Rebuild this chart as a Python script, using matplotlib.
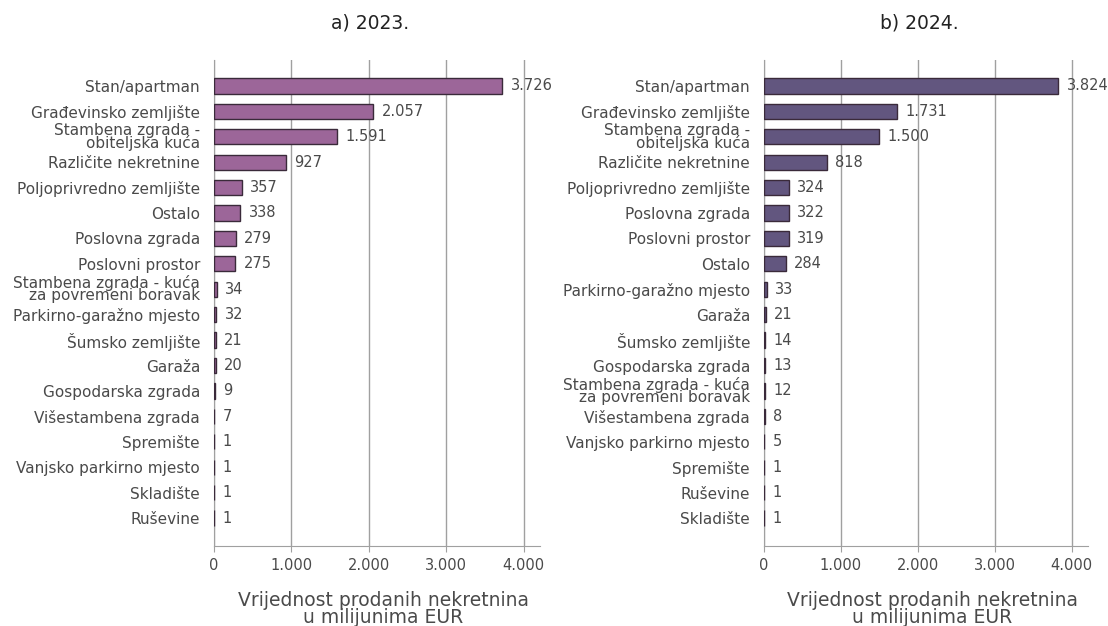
import matplotlib
matplotlib.use("Agg")
import matplotlib.pyplot as plt

plt.rcParams['font.family'] = ['DejaVu Sans']

cats_2023 = ["Stan/apartman", "Građevinsko zemljište", "Stambena zgrada -\nobiteljska kuća",
             "Različite nekretnine", "Poljoprivredno zemljište", "Ostalo", "Poslovna zgrada",
             "Poslovni prostor", "Stambena zgrada - kuća\nza povremeni boravak",
             "Parkirno-garažno mjesto", "Šumsko zemljište", "Garaža", "Gospodarska zgrada",
             "Višestambena zgrada", "Spremište", "Vanjsko parkirno mjesto", "Skladište", "Ruševine"]
vals_2023 = [3726, 2057, 1591, 927, 357, 338, 279, 275, 34, 32, 21, 20, 9, 7, 1, 1, 1, 1]

cats_2024 = ["Stan/apartman", "Građevinsko zemljište", "Stambena zgrada -\nobiteljska kuća",
             "Različite nekretnine", "Poljoprivredno zemljište", "Poslovna zgrada",
             "Poslovni prostor", "Ostalo", "Parkirno-garažno mjesto", "Garaža",
             "Šumsko zemljište", "Gospodarska zgrada", "Stambena zgrada - kuća\nza povremeni boravak",
             "Višestambena zgrada", "Vanjsko parkirno mjesto", "Spremište", "Ruševine", "Skladište"]
vals_2024 = [3824, 1731, 1500, 818, 324, 322, 319, 284, 33, 21, 14, 13, 12, 8, 5, 1, 1, 1]

ticks = [0, 1000, 2000, 3000, 4000]
text_col = "#4a4a4a"
grid_col = "#a0a0a0"


def fmt(v):
    return f"{v:,}".replace(",", ".")


fig = plt.figure(figsize=(11.08, 6.26), dpi=100)
ax1 = fig.add_axes([0.1931, 0.1278, 0.2942, 0.7764])
ax2 = fig.add_axes([0.6895, 0.1278, 0.2924, 0.7764])

for ax, cats, vals, col, title in [(ax1, cats_2023, vals_2023, "#9c6699", "a) 2023."),
                                     (ax2, cats_2024, vals_2024, "#62567f", "b) 2024.")]:
    y = list(range(len(cats)))
    ax.barh(y, vals, height=0.6, color=col, edgecolor="#3a2a3a", linewidth=1.0, zorder=3)
    for yi, v in zip(y, vals):
        ax.text(v + 110, yi, fmt(v), va="center", ha="left", fontsize=10.5, color=text_col,
                zorder=4)
    ax.set_yticks(y)
    ax.set_yticklabels(cats, fontsize=11, color=text_col, linespacing=0.76)
    ax.tick_params(axis="y", length=0, pad=10)
    ax.set_ylim(len(cats) - 1 + 1.1, -1.02)
    ax.set_xlim(0, 4210)
    ax.set_xticks(ticks)
    ax.set_xticklabels([fmt(t) for t in ticks], fontsize=10.5, color=text_col)
    ax.tick_params(axis="x", length=4, color=grid_col, pad=5)
    ax.grid(axis="x", color=grid_col, linewidth=1, zorder=0)
    for s in ["top", "right"]:
        ax.spines[s].set_visible(False)
    for s in ["left", "bottom"]:
        ax.spines[s].set_color(grid_col)
    ax.set_xlabel("Vrijednost prodanih nekretnina\nu milijunima EUR", fontsize=13.5,
                  color=text_col, linespacing=0.88)
    ax.xaxis.set_label_coords(0.52, -0.092)
    ax.set_title(title, fontsize=13.5, color="#222222", pad=23, x=0.48)

fig.savefig("out.png", dpi=100)
